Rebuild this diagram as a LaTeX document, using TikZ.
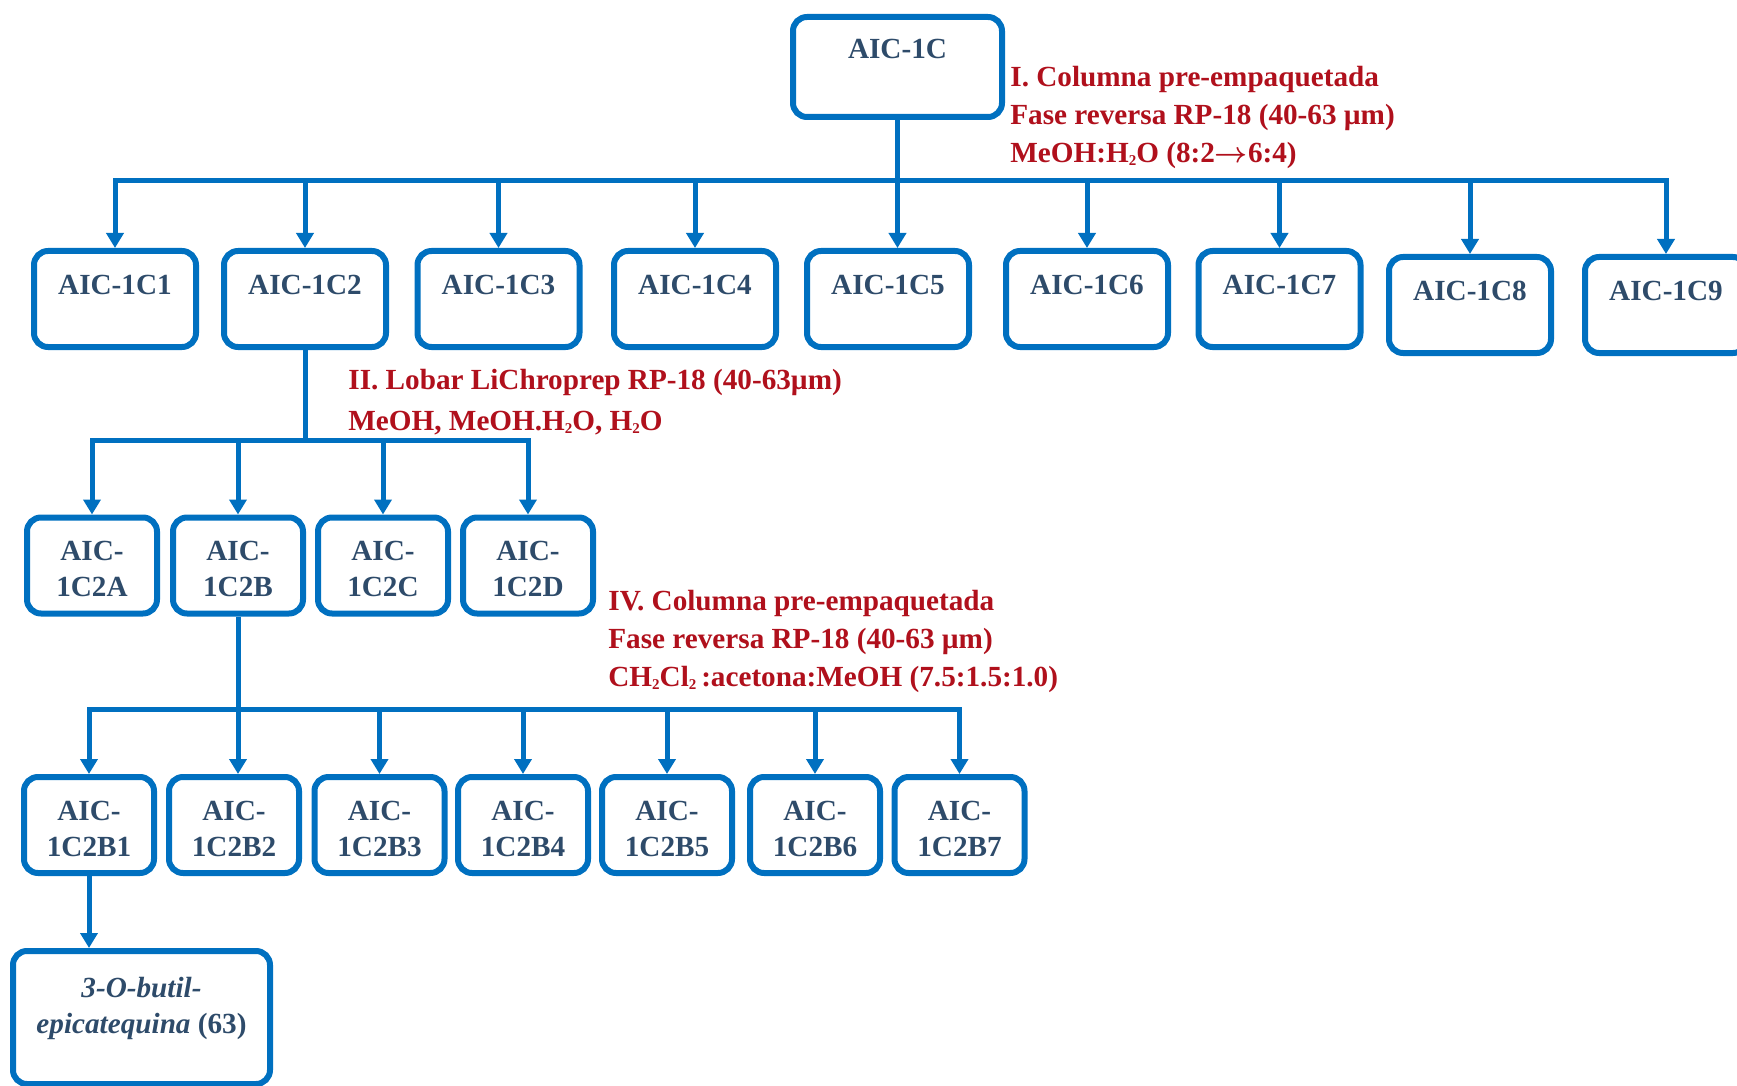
\documentclass[tikz,border=0pt]{standalone}
\usepackage{fontspec}
\setmainfont{Liberation Serif}
\usetikzlibrary{arrows.meta}
\definecolor{azul}{HTML}{0070C0}
\definecolor{texto}{HTML}{2E4B6A}
\definecolor{rojo}{HTML}{B0101C}
\newcommand{\ind}[1]{\raisebox{-0.12em}{\fontsize{7.5pt}{7.5pt}\selectfont #1}}

\begin{document}
\begin{tikzpicture}[x=0.5pt,y=-0.5pt,
		caja/.style={draw=azul,line width=3pt,rounded corners=7pt,inner sep=0pt,text=texto,align=center,font=\fontsize{14.6pt}{18pt}\selectfont\bfseries},
		cajaA/.style={caja,minimum width=81pt,text height=21.9pt,text depth=26.1pt},
		cajaB/.style={caja,minimum width=65pt,text height=39.5pt,text depth=8.5pt},
		nota/.style={text=rojo,align=left,inner sep=0pt,anchor=north west,font=\fontsize{14.6pt}{18.9pt}\selectfont\bfseries},
		linea/.style={draw=azul,line width=2.5pt},
		flecha/.style={linea,-{Triangle[length=7.5pt,width=8.5pt]}}]
		\useasboundingbox (0,0) rectangle (1737,1086);
		\coordinate (barra) at (0,181);
		\coordinate (barraII) at (0,440);
		\coordinate (barraIII) at (0,709);
		
		% 第一级
		\node[caja,minimum width=104.5pt,text height=20.85pt,text depth=29.15pt,anchor=north] (raiz) at (897.5,14) {AIC-1C};
		\node[nota] (notaI) at (1010,66) {I. Columna pre-empaquetada\\Fase reversa RP-18 (40-63 µm)\\MeOH:H\ind{2}O (8:2{\boldmath$\rightarrow$}6:4)};
		
		% 第二级 C1--C9
		\node[cajaA,anchor=north] (c1) at (115,248) {AIC-1C1};
		\node[cajaA,anchor=north] (c2) at (305,248) {AIC-1C2};
		\node[cajaA,anchor=north] (c3) at (498.5,248) {AIC-1C3};
		\node[cajaA,anchor=north] (c4) at (695,248) {AIC-1C4};
		\node[cajaA,anchor=north] (c5) at (888,248) {AIC-1C5};
		\node[cajaA,anchor=north] (c6) at (1087,248) {AIC-1C6};
		\node[cajaA,anchor=north] (c7) at (1279.5,248) {AIC-1C7};
		\node[cajaA,anchor=north] (c8) at (1470,254) {AIC-1C8};
		\node[cajaA,anchor=north] (c9) at (1666,254) {AIC-1C9};
		\draw[linea,line cap=rect] (c1.north |- barra) -- (c9.north |- barra);
		\draw[flecha] (raiz.south) -- (raiz.south |- c5.north);
		\foreach \n in {c1,c2,c3,c4,c6,c7,c8,c9}
			\draw[flecha] (\n.north |- barra) -- (\n.north);
		
		% 第三级 C2A--C2D
		\node[nota] (notaII) at (348,369) {II. Lobar LiChroprep RP-18 (40-63µm)\\[1.5pt]MeOH, MeOH.H\ind{2}O, H\ind{2}O};
		\node[cajaB] (c2a) at (92,565.5) {AIC-\\1C2A};
		\node[cajaB] (c2b) at (238,565.5) {AIC-\\1C2B};
		\node[cajaB] (c2c) at (383,565.5) {AIC-\\1C2C};
		\node[cajaB] (c2d) at (528,565.5) {AIC-\\1C2D};
		\draw[linea] (c2.south) -- (c2.south |- barraII);
		\draw[linea,line cap=rect] (c2a.north |- barraII) -- (c2d.north |- barraII);
		\foreach \n in {c2a,c2b,c2c,c2d}
			\draw[flecha] (\n.north |- barraII) -- (\n.north);
		
		% 第四级 C2B1--C2B7
		\node[nota] (notaIV) at (608,590) {IV. Columna pre-empaquetada\\Fase reversa RP-18 (40-63 µm)\\CH\ind{2}Cl\ind{2}\,:acetona:MeOH (7.5:1.5:1.0)};
		\node[cajaB] (b1) at (89,825) {AIC-\\1C2B1};
		\node[cajaB] (b2) at (234,825) {AIC-\\1C2B2};
		\node[cajaB] (b3) at (379.5,825) {AIC-\\1C2B3};
		\node[cajaB] (b4) at (523,825) {AIC-\\1C2B4};
		\node[cajaB] (b5) at (667,825) {AIC-\\1C2B5};
		\node[cajaB] (b6) at (815,825) {AIC-\\1C2B6};
		\node[cajaB] (b7) at (959.5,825) {AIC-\\1C2B7};
		\draw[flecha] (c2b.south) -- (c2b.south |- b2.north);
		\draw[linea,line cap=rect] (b1.north |- barraIII) -- (b7.north |- barraIII);
		\foreach \n in {b1,b3,b4,b5,b6,b7}
			\draw[flecha] (\n.north |- barraIII) -- (\n.north);
		
		% 产物
		\node[caja,minimum width=128.5pt,text height=41.1pt,text depth=25.4pt] (fin) at (141.5,1017.5) {\textit{3-O-butil-}\\\textit{epicatequina} (63)};
		\draw[flecha] (b1.south) -- (b1.south |- fin.north);
		
	\end{tikzpicture}
\end{document}
